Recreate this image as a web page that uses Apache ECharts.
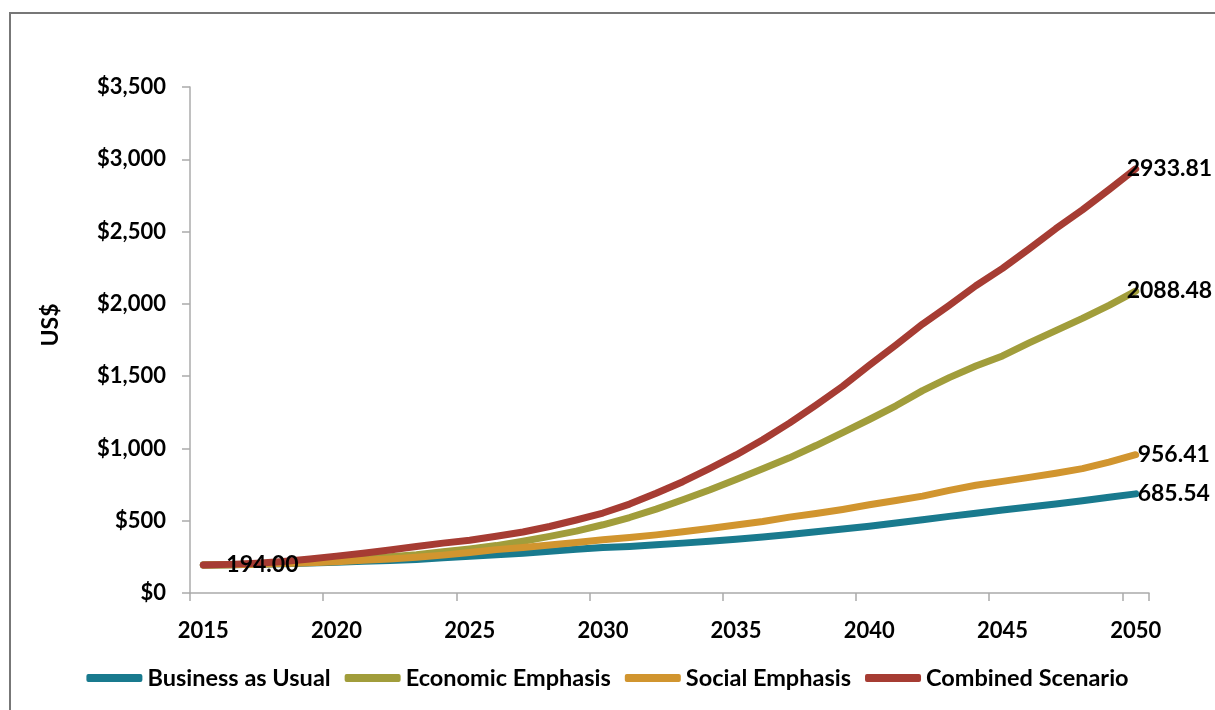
<!DOCTYPE html>
<html>
<head>
<meta charset="utf-8">
<script src="https://cdn.jsdelivr.net/npm/echarts@6/dist/echarts.min.js"></script>
<style>
  html, body { margin: 0; padding: 0; background: #fff; }
  #chart { width: 1215px; height: 710px; }
</style>
</head>
<body>
<div id="chart"></div>
<script>
// Years on the category axis
const years = [];
for (let y = 2015; y <= 2050; y++) years.push(String(y));

// Scenario series, US$ per year 2015–2050
const businessAsUsual = [194, 196, 199, 203, 208, 213, 219, 225, 232, 243, 255, 265, 275, 288, 302, 314, 322, 333, 345, 358, 372, 388, 405, 424, 443, 462, 484, 507, 530, 552, 574, 595, 615, 638, 662, 685.54];
const economicEmphasis = [194, 196, 200, 206, 214, 222, 235, 250, 265, 285, 305, 328, 358, 392, 428, 472, 522, 580, 645, 712, 785, 860, 935, 1020, 1110, 1200, 1295, 1400, 1490, 1570, 1640, 1730, 1815, 1900, 1990, 2088.48];
const socialEmphasis = [194, 196, 199, 204, 210, 217, 226, 236, 247, 262, 280, 300, 315, 332, 350, 368, 384, 402, 424, 446, 470, 495, 525, 550, 578, 610, 640, 670, 710, 745, 772, 800, 828, 860, 905, 956.41];
const combinedScenario = [194, 198, 206, 218, 235, 255, 275, 298, 322, 345, 365, 392, 422, 460, 505, 553, 615, 690, 770, 860, 955, 1060, 1175, 1300, 1430, 1575, 1715, 1860, 1990, 2125, 2245, 2380, 2520, 2650, 2790, 2933.81];

const seriesNames = ['Business as Usual', 'Economic Emphasis', 'Social Emphasis', 'Combined Scenario'];
const seriesColors = ['#197A8E', '#A19D3B', '#D1952F', '#A63C33'];

const FONT = 'Lato';
const hiddenSymbol = { color: 'rgba(0,0,0,0)', borderWidth: 0 };

// Value label placed beside a point (x measured from the point's left edge)
function valueLabel(dx) {
  return {
    show: true,
    position: [dx, 1],
    align: 'left',
    verticalAlign: 'middle',
    fontFamily: FONT,
    fontWeight: 'bold',
    fontSize: 23,
    color: '#000',
    textBorderWidth: 0,
    textBorderColor: 'transparent',
    formatter: p => Number(p.value).toFixed(2)
  };
}

// Label the final point of each line; optionally the first point as well
function withLabels(values, endDx, labelFirst) {
  const last = values.length - 1;
  return values.map((v, i) => {
    if (i === last) {
      return { value: v, symbol: 'circle', symbolSize: 2, itemStyle: hiddenSymbol, label: valueLabel(endDx) };
    }
    if (labelFirst && i === 0) {
      return { value: v, symbol: 'circle', symbolSize: 2, itemStyle: hiddenSymbol, label: valueLabel(24) };
    }
    return { value: v, symbol: 'none' };
  });
}

const seriesData = [
  withLabels(businessAsUsual, 3, false),
  withLabels(economicEmphasis, -8, false),
  withLabels(socialEmphasis, 3, false),
  withLabels(combinedScenario, -8, true)
];

const chart = echarts.init(document.getElementById('chart'));

chart.setOption({
  animation: false,
  backgroundColor: '#fff',
  color: seriesColors,
  grid: { left: 190, right: 66, top: 87, bottom: 117, containLabel: false },
  graphic: [
    { type: 'rect', shape: { x: 10, y: 13, width: 1230, height: 720 },
      style: { fill: 'none', stroke: '#777', lineWidth: 2 }, silent: true },
    { type: 'text', x: 51, y: 325, rotation: Math.PI / 2,
      style: { text: 'US$', fontFamily: FONT, fontWeight: 'bold', fontSize: 23, fill: '#000',
               textAlign: 'center', textVerticalAlign: 'middle' } }
  ],
  legend: {
    left: 'center', top: 661,
    itemWidth: 56, itemHeight: 8, itemGap: 14,
    icon: 'roundRect',
    textStyle: { fontFamily: FONT, fontWeight: 'bold', fontSize: 23.5, color: '#000' },
    data: seriesNames
  },
  xAxis: {
    type: 'category',
    data: years,
    boundaryGap: true,
    axisLine: { lineStyle: { color: '#ABABAB', width: 1.5 } },
    axisTick: { show: true, interval: 4, length: 8, lineStyle: { color: '#ABABAB', width: 1.5 } },
    axisLabel: { interval: 4, margin: 27, fontFamily: FONT, fontWeight: 'bold', fontSize: 22, color: '#000' }
  },
  yAxis: {
    type: 'value',
    min: 0, max: 3500, interval: 500,
    splitLine: { show: false },
    axisLine: { show: true, lineStyle: { color: '#ABABAB', width: 1.5 } },
    axisTick: { show: true, length: 8, lineStyle: { color: '#ABABAB', width: 1.5 } },
    axisLabel: { margin: 24, fontFamily: FONT, fontWeight: 'bold', fontSize: 22, color: '#000',
      formatter: v => '$' + v.toLocaleString('en-US') }
  },
  series: seriesNames.map((name, i) => ({
    name,
    type: 'line',
    data: seriesData[i],
    showSymbol: true,
    smooth: false,
    lineStyle: { width: 7, color: seriesColors[i], cap: 'round', join: 'round' },
    itemStyle: { color: seriesColors[i] },
    z: 2 + i,
    labelLayout: { hideOverlap: false },
    emphasis: { disabled: true }
  }))
});
</script>
</body>
</html>
